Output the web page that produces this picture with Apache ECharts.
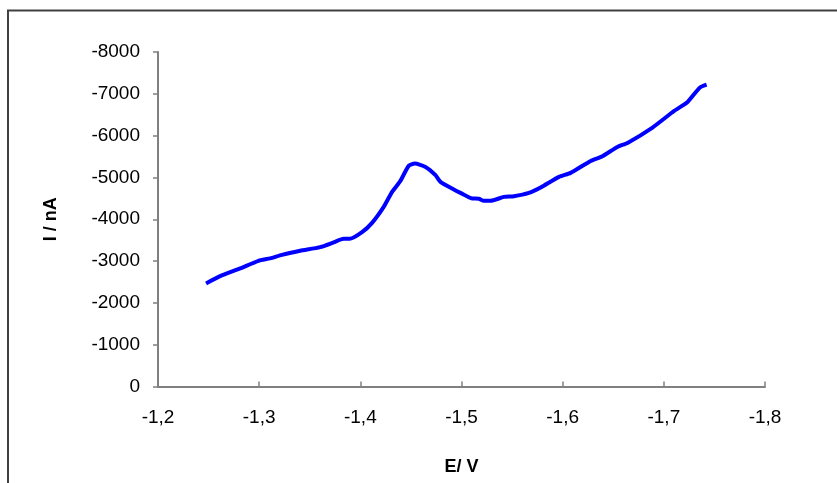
<!DOCTYPE html>
<html>
<head>
<meta charset="utf-8">
<script src="https://cdn.jsdelivr.net/npm/echarts@6/dist/echarts.min.js"></script>
<style>
html,body{margin:0;padding:0;background:#fff;}
#chart{width:837px;height:483px;}
</style>
</head>
<body>
<div id="chart"></div>
<script>
// Potential E / V
var potential = [-1.2475,-1.2614,-1.2812,-1.2993,-1.3109,-1.3225,-1.3406,-1.3604,-1.3736,-1.3835,-1.3894,-1.4017,-1.4116,-1.4231,-1.4314,-1.4396,-1.4478,-1.4538,-1.4644,-1.4743,-1.4792,-1.4924,-1.4990,-1.5106,-1.5171,-1.5221,-1.5287,-1.5419,-1.5518,-1.5666,-1.5782,-1.5964,-1.6079,-1.6277,-1.6393,-1.6541,-1.6641,-1.6888,-1.7102,-1.7235,-1.7317,-1.7366,-1.7423];
// Current I / nA
var current = [-2466,-2640,-2824,-3006,-3063,-3149,-3245,-3333,-3446,-3532,-3532,-3692,-3914,-4296,-4655,-4918,-5276,-5333,-5252,-5054,-4894,-4712,-4631,-4497,-4492,-4440,-4440,-4535,-4552,-4631,-4760,-5013,-5109,-5395,-5508,-5730,-5826,-6193,-6590,-6805,-7044,-7164,-7221];
var xTitle = 'E/ V';
var yTitle = 'I / nA';

var pts = potential.map(function(e, i){ return [e, current[i]]; });
var chart = echarts.init(document.getElementById('chart'), null, {renderer:'canvas'});
var font = '"Liberation Sans", Arial, sans-serif';
chart.setOption({
  animation:false,
  backgroundColor:'#ffffff',
  grid:{left:158, right:72, top:52, bottom:96.5},
  graphic:[{
    type:'rect', shape:{x:8, y:10.5, width:840, height:490},
    style:{fill:'none', stroke:'#404040', lineWidth:2}, silent:true
  }],
  xAxis:{
    type:'value', min:-1.8, max:-1.2, interval:0.1, inverse:true,
    position:'bottom',
    name:xTitle, nameLocation:'middle', nameGap:72,
    nameTextStyle:{fontFamily:font, fontSize:18, fontWeight:'bold', color:'#000'},
    axisLine:{show:true, onZero:false, lineStyle:{color:'#808080', width:2}},
    axisTick:{show:true, inside:true, length:5, lineStyle:{color:'#808080', width:1.5}},
    axisLabel:{margin:22, fontFamily:font, fontSize:19, color:'#000',
      formatter:function(v){ return v.toFixed(1).replace('.', ','); }},
    splitLine:{show:false}
  },
  yAxis:{
    type:'value', min:-8000, max:0, interval:1000, inverse:true,
    position:'left',
    name:yTitle, nameLocation:'middle', nameGap:98, nameRotate:90,
    nameTextStyle:{fontFamily:font, fontSize:18, fontWeight:'bold', color:'#000'},
    axisLine:{show:true, onZero:false, lineStyle:{color:'#808080', width:2}},
    axisTick:{show:true, inside:false, length:5, lineStyle:{color:'#808080', width:1.5}},
    axisLabel:{margin:18, fontFamily:font, fontSize:19, color:'#000',
      formatter:function(v){ return String(v); }},
    splitLine:{show:false}
  },
  series:[{
    type:'line', data:pts, showSymbol:false, smooth:0.2,
    lineStyle:{color:'#0000ff', width:4},
    itemStyle:{color:'#0000ff'}
  }]
});
</script>
</body>
</html>
